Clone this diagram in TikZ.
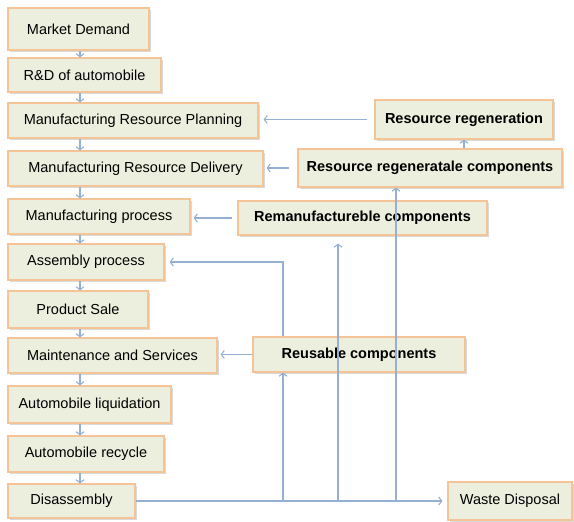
\documentclass[tikz,border=0pt]{standalone}
\usepackage{fontspec}
\setmainfont{Liberation Sans}
\usepackage{xcolor}
\usetikzlibrary{arrows.meta, shadows}
\definecolor{boxfill}{RGB}{236,239,222}
\definecolor{boxline}{RGB}{244,196,150}
\definecolor{flow}{RGB}{150,176,211}

\begin{document}
\begin{tikzpicture}[x=1pt, y=-1pt,
  stage/.style={rectangle, draw=boxline, line width=1.2pt, fill=boxfill,
    drop shadow={opacity=0.3, shadow xshift=1.5pt, shadow yshift=-1.8pt},
    font=\fontsize{14.5}{16}\selectfont, inner sep=2pt},
  part/.style={stage, font=\fontsize{14.5}{16}\selectfont\bfseries},
  flowline/.style={draw=flow, line width=1.1pt, -{Straight Barb[length=3pt,width=8pt]}}]
  \useasboundingbox (0,0) rectangle (574,522);

  % life cycle column
  \node[stage, minimum width=141pt, minimum height=42pt] (demand) at (78.5,29) {Market Demand};
  \node[stage, minimum width=153pt, minimum height=34pt] (rnd) at (84.5,75) {R\&D of automobile};
  \node[stage, minimum width=250pt, minimum height=35pt] (planning) at (133,120.5) {Manufacturing Resource Planning};
  \node[stage, minimum width=255pt, minimum height=35pt] (delivery) at (135.5,168.5) {Manufacturing Resource Delivery};
  \node[stage, minimum width=182pt, minimum height=35pt] (mproc) at (99,216.5) {Manufacturing process};
  \node[stage, minimum width=156pt, minimum height=36pt] (assembly) at (86,262) {Assembly process};
  \node[stage, minimum width=140pt, minimum height=37pt] (sale) at (78,309.5) {Product Sale};
  \node[stage, minimum width=209pt, minimum height=35pt] (maint) at (112.5,355.5) {Maintenance and Services};
  \node[stage, minimum width=163pt, minimum height=37pt] (liquid) at (89.5,404.5) {Automobile liquidation};
  \node[stage, minimum width=156pt, minimum height=36pt] (recycle) at (86,454) {Automobile recycle};
  \node[stage, minimum width=127pt, minimum height=34pt] (disasm) at (71.5,501) {Disassembly};

  % recovered parts
  \node[part, minimum width=178pt, minimum height=39pt] (regen) at (464,119.5) {Resource regeneration};
  \node[part, minimum width=264pt, minimum height=38pt] (regencomp) at (430,168) {Resource regeneratale components};
  \node[part, minimum width=249pt, minimum height=34pt] (reman) at (362.5,218) {Remanufactureble components};
  \node[part, minimum width=212pt, minimum height=35pt] (reuse) at (359,354.5) {Reusable components};
  \node[stage, minimum width=124pt, minimum height=38pt] (waste) at (510,501) {Waste Disposal};

  \coordinate (col) at (80,0);
  \coordinate (j1) at (283,0);
  \coordinate (j2) at (338,0);
  \coordinate (j3) at (396,0);

  \foreach \a/\b in {demand/rnd, rnd/planning, planning/delivery, delivery/mproc,
      mproc/assembly, assembly/sale, sale/maint, maint/liquid, liquid/recycle, recycle/disasm}
    \draw[flowline] (\a.south -| col) -- (\b.north -| col);

  \draw[flowline, shorten >=5pt] (disasm.east) -- (waste.west);
  \draw[flowline] (disasm.east -| j1) -- (reuse.south -| j1);
  \draw[flowline, shorten >=8pt] (disasm.east -| j2) -- (reman.south -| j2);
  \draw[flowline] (disasm.east -| j3) -- (regencomp.south -| j3);
  \draw[flowline, shorten >=5pt] (reuse.north -| j1) |- (assembly.east);
  \draw[flowline, shorten >=3pt] (reuse.west) -- (reuse.west -| maint.east);
  \draw[flowline, shorten <=5pt, shorten >=3pt] (reman.west) -- (reman.west -| mproc.east);
  \draw[flowline, shorten <=8pt, shorten >=3pt] (regencomp.west) -- (regencomp.west -| delivery.east);
  \draw[flowline, shorten <=7pt, shorten >=5pt] (regen.west) -- (regen.west -| planning.east);
  \draw[flowline] (regencomp.north -| regen.south) -- (regen.south);
\end{tikzpicture}
\end{document}
